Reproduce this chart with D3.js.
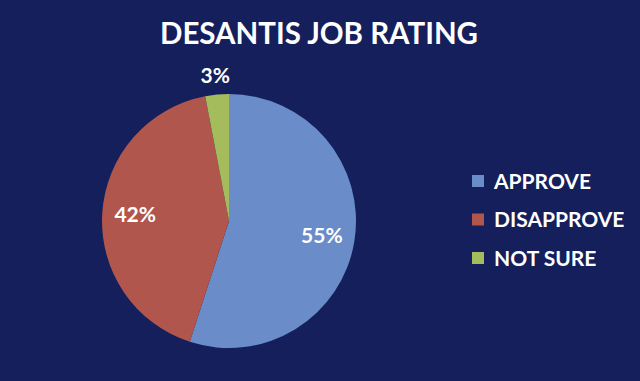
<!DOCTYPE html>
<html><head><meta charset="utf-8">
<script src="https://cdn.jsdelivr.net/npm/d3@7"></script>
<style>html,body{margin:0;padding:0;background:#141f5c;}svg{display:block;}</style>
</head><body>
<svg id="c" width="640" height="381"></svg>
<script>
const categories = ["APPROVE", "DISAPPROVE", "NOT SURE"];
const values = [55, 42, 3];
const colors = ["#6a8cc8", "#b0564c", "#a4bc5c"];
const title = "DESANTIS JOB RATING";

const svg = d3.select("#c");
const font = "Lato, 'Open Sans', sans-serif";
svg.append("rect").attr("width",640).attr("height",381).attr("fill","#141f5c");

svg.append("text").attr("x",319).attr("y",44).attr("text-anchor","middle")
  .attr("font-family",font).attr("font-weight","bold").attr("font-size",30)
  .attr("textLength",318).attr("lengthAdjust","spacingAndGlyphs")
  .attr("fill","#fff").text(title);

const cx=229, cy=221, R=127;
const g = svg.append("g").attr("transform",`translate(${cx},${cy})`);
const pie = d3.pie().sort(null).value(d=>d)(values);
const arc = d3.arc().innerRadius(0).outerRadius(R);
g.selectAll("path").data(pie).join("path").attr("d",arc).attr("fill",(d,i)=>colors[i]);

const inArc = d3.arc().innerRadius(94).outerRadius(94);
const outArc = d3.arc().innerRadius(146).outerRadius(146);
g.selectAll("text.lbl").data(pie).join("text").attr("class","lbl")
  .attr("transform",d=>{const c=(d.data<10?outArc:inArc).centroid(d);return `translate(${c})`;})
  .attr("text-anchor","middle").attr("dy","0.35em")
  .attr("font-family",font).attr("font-weight","bold").attr("font-size",21)
  .attr("fill","#fff").text(d=>d.data+"%");

const leg = svg.append("g").attr("transform","translate(472,175)");
categories.forEach((c,i)=>{
  const y = i*38.5;
  leg.append("rect").attr("x",0).attr("y",y).attr("width",12).attr("height",12).attr("fill",colors[i]);
  leg.append("text").attr("x",22).attr("y",y+6).attr("dy","0.36em")
    .attr("font-family",font).attr("font-weight","bold").attr("font-size",21)
    .attr("fill","#fff").text(c);
});
</script>
</body></html>
